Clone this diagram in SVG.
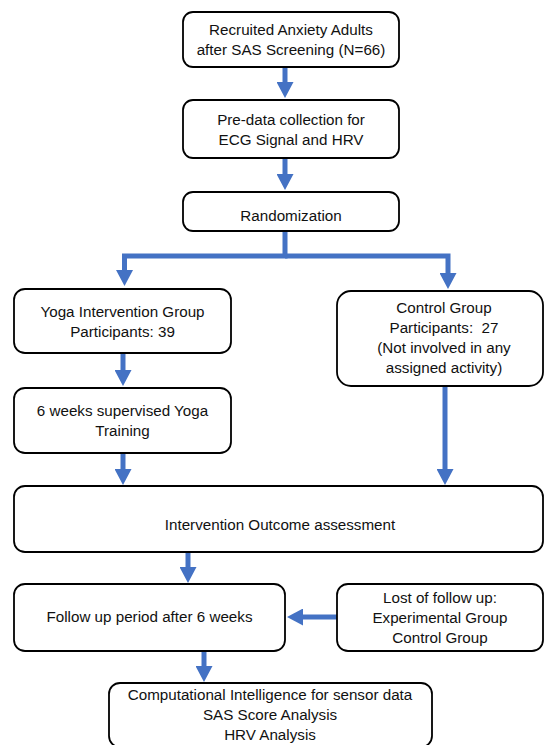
<svg xmlns="http://www.w3.org/2000/svg" width="544" height="745" viewBox="0 0 544 745">
<defs>
<marker id="ah" viewBox="0 0 16 17" refX="1" refY="8.5" markerWidth="16" markerHeight="17" markerUnits="userSpaceOnUse" orient="auto">
<path d="M0,0 L16,8.5 L0,17 Z" fill="#4472C4"/>
</marker>
<style>
.box{fill:#fff;stroke:#000;stroke-width:1.8}
.t{font-family:"Liberation Sans",Arial,sans-serif;font-size:15.2px;fill:#111;text-anchor:middle}
.c{fill:none;stroke:#4472C4;stroke-width:5;stroke-linejoin:miter;marker-end:url(#ah)}
</style>
</defs>
<rect width="544" height="745" fill="#fff"/>
<g id="connectors">
<path class="c" d="M285,67 V83"/>
<path class="c" d="M285,158 V175"/>
<path class="c" d="M285,231 V256 H124.5 V271"/>
<path class="c" d="M285,256 H448 V274"/>
<path class="c" d="M123,353 V371"/>
<path class="c" d="M123,453 V470"/>
<path class="c" d="M445,386 V470"/>
<path class="c" d="M188,552 V568"/>
<path class="c" d="M337,617 H302"/>
<path class="c" d="M204,651 V667"/>
</g>
<g id="n1"><rect class="box" x="183" y="12" width="216" height="55" rx="10"/>
<text class="t" x="291" y="35">Recruited Anxiety Adults</text>
<text class="t" x="291" y="55">after SAS Screening (N=66)</text></g>
<g id="n2"><rect class="box" x="183" y="100" width="216" height="58" rx="10"/>
<text class="t" x="291" y="125">Pre-data collection for</text>
<text class="t" x="291" y="145">ECG Signal and HRV</text></g>
<g id="n3"><rect class="box" x="183" y="192" width="216" height="39" rx="10"/>
<text class="t" x="291" y="221">Randomization</text></g>
<g id="n4"><rect class="box" x="14" y="289" width="217" height="64" rx="11"/>
<text class="t" x="122.5" y="317">Yoga Intervention Group</text>
<text class="t" x="122.5" y="337">Participants: 39</text></g>
<g id="n5"><rect class="box" x="337" y="291" width="206" height="95" rx="14"/>
<text class="t" x="444" y="313">Control Group</text>
<text class="t" x="444" y="333" xml:space="preserve">Participants:  27</text>
<text class="t" x="444" y="353">(Not involved in any</text>
<text class="t" x="444" y="373">assigned activity)</text></g>
<g id="n6"><rect class="box" x="14" y="388" width="217" height="65" rx="11"/>
<text class="t" x="122.5" y="416">6 weeks supervised Yoga</text>
<text class="t" x="122.5" y="436">Training</text></g>
<g id="n7"><rect class="box" x="14" y="486" width="529" height="66" rx="11"/>
<text class="t" x="280" y="530">Intervention Outcome assessment</text></g>
<g id="n8"><rect class="box" x="14" y="584" width="271" height="67" rx="11"/>
<text class="t" x="149.5" y="622">Follow up period after 6 weeks</text></g>
<g id="n9"><rect class="box" x="337" y="584" width="206" height="67" rx="11"/>
<text class="t" x="440" y="603">Lost of follow up:</text>
<text class="t" x="440" y="623">Experimental Group</text>
<text class="t" x="440" y="643">Control Group</text></g>
<g id="n10"><rect class="box" x="109" y="683" width="323" height="64" rx="11"/>
<text class="t" x="270" y="700">Computational Intelligence for sensor data</text>
<text class="t" x="270" y="720">SAS Score Analysis</text>
<text class="t" x="270" y="740">HRV Analysis</text></g>
</svg>
